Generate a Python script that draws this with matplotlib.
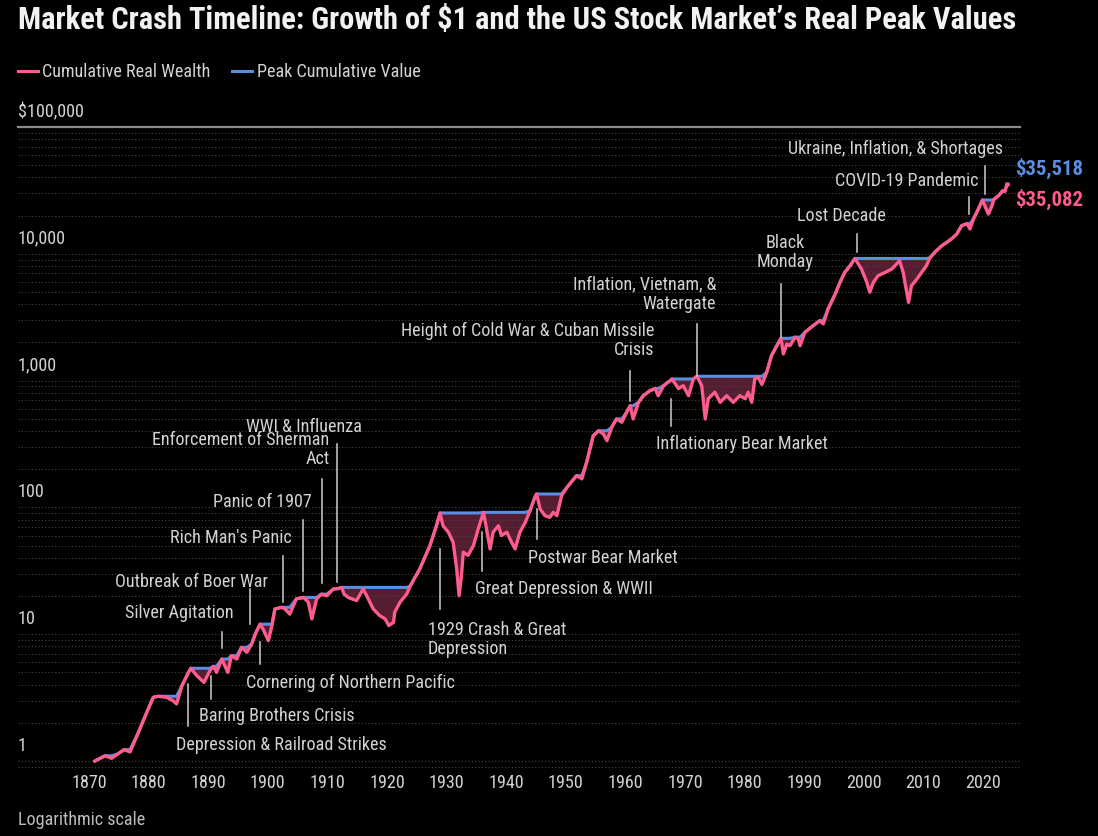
import numpy as np
import matplotlib.pyplot as plt
from matplotlib.lines import Line2D
from matplotlib import font_manager as fm

# real cumulative wealth of $1
years = [1871.0, 1872.7, 1873.8, 1874.9, 1875.9, 1876.9, 1878.3, 1879.7, 1880.8, 1881.6,
         1883.0, 1884.1, 1884.7, 1885.6, 1886.7, 1887.1, 1888.1, 1889.3, 1890.3, 1890.9,
         1891.4, 1892.3, 1893.3, 1893.9, 1894.8, 1895.6, 1896.5, 1897.3, 1897.9, 1898.7,
         1899.2, 1900.1, 1900.7, 1901.2, 1902.3, 1902.9, 1903.7, 1904.8, 1906.0, 1906.8,
         1907.4, 1908.2, 1909.0, 1909.9, 1911.0, 1911.8, 1912.4, 1912.8, 1913.5, 1914.9,
         1916.0, 1916.6, 1917.7, 1918.8, 1919.7, 1920.3, 1921.1, 1921.3, 1922.2, 1923.3,
         1923.9, 1925.5, 1927.2, 1928.3, 1928.9, 1929.4, 1930.3, 1931.1, 1931.7, 1932.1,
         1932.5, 1932.8, 1933.6, 1934.5, 1935.3, 1936.2, 1936.7, 1937.3, 1937.8, 1938.7,
         1939.2, 1940.1, 1940.9, 1941.5, 1942.3, 1943.2, 1944.0, 1944.8, 1945.1, 1945.7,
         1946.5, 1947.3, 1947.9, 1948.5, 1949.3, 1950.2, 1951.8, 1952.7, 1953.5, 1954.6,
         1955.5, 1956.3, 1956.9, 1957.7, 1958.5, 1959.4, 1960.2, 1960.8, 1961.3, 1962.2,
         1963.0, 1964.1, 1965.0, 1965.5, 1966.4, 1967.5, 1967.8, 1968.9, 1969.7, 1970.6,
         1971.4, 1972.0, 1972.8, 1973.4, 1973.9, 1975.0, 1975.9, 1977.0, 1978.1, 1979.2,
         1980.1, 1980.6, 1981.2, 1981.7, 1982.3, 1982.9, 1983.7, 1984.5, 1985.4, 1986.1,
         1986.5, 1987.1, 1987.6, 1988.5, 1989.0, 1989.3, 1990.1, 1991.5, 1992.6, 1993.2,
         1994.0, 1995.2, 1996.0, 1996.8, 1997.7, 1998.5, 1999.6, 2000.5, 2001.0, 2001.6,
         2002.4, 2003.6, 2004.7, 2005.5, 2006.0, 2006.6, 2007.2, 2007.5, 2008.0, 2008.9,
         2009.7, 2010.5, 2011.1, 2011.9, 2013.1, 2013.9, 2014.7, 2015.6, 2016.4, 2017.3,
         2017.8, 2018.4, 2019.2, 2019.9, 2020.4, 2020.9, 2021.5, 2021.8, 2022.6, 2023.3,
         2023.7, 2024.0, 2024.2]
wealth = [1.00, 1.10, 1.05, 1.14, 1.23, 1.18, 1.68, 2.42, 3.18, 3.24,
          3.18, 2.99, 2.82, 3.92, 5.00, 5.39, 4.71, 4.17, 5.16, 5.58,
          5.00, 6.37, 5.00, 6.77, 6.37, 7.88, 7.20, 8.37, 10.0, 12.0,
          11.0, 8.9, 11.7, 15.8, 16.3, 15.8, 14.4, 19.0, 19.5, 17.9,
          13.2, 19.0, 20.7, 20.1, 22.7, 22.9, 23.4, 20.7, 19.5, 18.4,
          22.7, 20.1, 15.8, 14.0, 13.2, 11.7, 12.4, 14.9, 17.9, 20.7,
          24.0, 32.7, 49.9, 71.7, 90.4, 71.7, 63.7, 53.1, 32.7, 20.1,
          28.9, 44.3, 41.9, 49.9, 67.5, 91.4, 67.5, 47.0, 63.7, 71.7,
          60.0, 63.7, 53.1, 47.0, 63.7, 76.2, 94.2, 120, 127.6, 97,
          86, 83.5, 91.4, 86, 124, 144, 178, 168, 227, 367,
          402, 380, 336, 428, 498, 470, 562, 634, 498, 674,
          760, 832, 866, 760, 912, 998, 1030, 866, 912, 760,
          1030, 1082, 912, 498, 720, 810, 674, 760, 674, 760,
          720, 810, 674, 1030, 1060, 933, 1160, 1570, 1884, 2155,
          1622, 1940, 1884, 2200, 2130, 1884, 2400, 2710, 2970, 2800,
          3670, 4820, 5960, 7140, 8060, 9190, 7590, 5960, 4970, 5960,
          6720, 7140, 7590, 8310, 8830, 7140, 4970, 4140, 5600, 6320,
          7140, 8060, 9300, 10280, 11600, 12300, 13090, 14330, 16660, 17300,
          15700, 18800, 22500, 26570, 23300, 20600, 23900, 26800, 28700, 31450,
          31000, 35518, 35082]

ytick_vals = [1, 10, 100, 1000, 10000, 100000]
ytick_labels = ["1", "10", "100", "1,000", "10,000", "$100,000"]
xtick_vals = list(range(1870, 2021, 10))

event_labels = ["Depression & Railroad Strikes", "Baring Brothers Crisis",
                "Cornering of Northern Pacific", "Silver Agitation", "Outbreak of Boer War",
                "Rich Man's Panic", "Panic of 1907", "Enforcement of Sherman\nAct",
                "WWI & Influenza", "1929 Crash & Great\nDepression", "Great Depression & WWII",
                "Postwar Bear Market", "Height of Cold War & Cuban Missile\nCrisis",
                "Inflation, Vietnam, &\nWatergate", "Inflationary Bear Market", "Black\nMonday",
                "Lost Decade", "COVID-19 Pandemic", "Ukraine, Inflation, & Shortages"]

# layout of the callouts: leader x, leader top/bottom, text x, text y, alignment
callouts = [
    (1886.6, 4.05, 1.89, 1884.6, 1.36, "left"),
    (1890.4, 4.68, 3.08, 1888.5, 2.31, "left"),
    (1898.7, 8.68, 5.82, 1896.3, 4.20, "left"),
    (1892.3, 10.4, 7.78, 1894.2, 15.0, "right"),
    (1897.0, 22.7, 12.0, 1900.0, 26.3, "right"),
    (1902.5, 41.4, 17.9, 1904.1, 58.4, "right"),
    (1905.9, 79.6, 21.9, 1907.4, 112, "right"),
    (1909.1, 167, 25.3, 1910.4, 291, "right"),
    (1911.6, 316, 25.8, 1915.8, 438, "right"),
    (1928.9, 47, 15.8, 1926.9, 9.25, "left"),
    (1935.9, 64, 31.5, 1934.8, 23.1, "left"),
    (1945.2, 97, 56.3, 1943.7, 40.6, "left"),
    (1960.8, 1190, 690, 1964.8, 2110, "right"),
    (1972.0, 2795, 1086, 1975.2, 4910, "right"),
    (1967.7, 716, 438, 1965.1, 322, "left"),
    (1986.1, 5780, 2210, 1986.8, 10420, "center"),
    (1998.9, 14330, 10330, 1996.3, 20230, "center"),
    (2017.7, 28050, 20470, 2019.2, 38200, "right"),
    (2020.3, 49400, 29630, 2023.4, 68300, "right"),
]

PINK = "#ff5c8e"
BLUE = "#5b8ee0"
FILL = "#561c31"
TXT = "#d2d2d2"

# look for a narrow sans face, the original uses a condensed grotesque
fonts = fm.fontManager.ttflist
face, stretch = None, "normal"
for name in ["Roboto Condensed", "Liberation Sans Narrow", "Open Sans Condensed",
             "Noto Sans Condensed", "DejaVu Sans Condensed", "Arial Narrow"]:
    if any(f.name == name for f in fonts):
        face = name
        break
if face is None:
    for f in fonts:
        if f.name in ("Roboto", "Noto Sans", "Open Sans", "DejaVu Sans", "Liberation Sans") \
                and str(f.stretch) in ("condensed", "semi-condensed", "extra-condensed"):
            face, stretch = f.name, str(f.stretch)
            break
if face is None:
    face = "DejaVu Sans"
plt.rcParams["font.family"] = [face, "DejaVu Sans"]
plt.rcParams["font.stretch"] = stretch

years = np.array(years)
wealth = np.array(wealth)
peak = np.maximum.accumulate(wealth)

fig = plt.figure(figsize=(10.98, 8.37), dpi=100, facecolor="black")
renderer = fig.canvas.get_renderer()


def fit(text, width_px, base, weight="normal"):
    # font size that gives the text the width it has in the original
    t = fig.text(0, 0, text, fontsize=base, fontweight=weight)
    w = t.get_window_extent(renderer).width
    t.remove()
    return base * min(width_px / w, 1.2)


FS = fit("Inflationary Bear Market", 173, 12.5)
FS_TITLE = fit("Market Crash Timeline: Growth of $1 and the US Stock Market\u2019s Real Peak Values",
               997, 20, "bold")
FS_END = fit("$35,518", 68, 15, "bold")

ax = fig.add_axes([18 / 1098, 1 - 770 / 837, 1002 / 1098, 642 / 837])
ax.set_facecolor("black")
ax.set_yscale("log")
ax.set_ylim(0.865, 1e5)
ax.set_xlim(1858.1, 2026.2)

ax.grid(axis="y", which="both", linestyle=(0, (1, 2)), color="#444444", linewidth=0.8)
ax.axhline(1e5, color="#8a8a8a", linewidth=1.6, clip_on=False)
for s in ax.spines.values():
    s.set_visible(False)
ax.tick_params(axis="y", which="both", length=0, labelleft=False)
ax.tick_params(axis="x", length=0, colors=TXT, labelsize=FS, pad=3)
ax.set_xticks(xtick_vals)
ax.set_xticklabels([str(y) for y in xtick_vals])

for v, lab in zip(ytick_vals, ytick_labels):
    ax.annotate(lab, xy=(0, v), xycoords=("axes fraction", "data"), xytext=(0, 11.5),
                textcoords="offset points", ha="left", va="center", color=TXT, fontsize=FS)

ax.fill_between(years, wealth, peak, where=peak > wealth, interpolate=True, color=FILL, linewidth=0)
ax.plot(years, peak, color=BLUE, linewidth=2.2)
ax.plot(years, wealth, color=PINK, linewidth=2.4)

for lab, (lx, ytop, ybot, tx, ty, ha) in zip(event_labels, callouts):
    ax.plot([lx, lx], [ybot, ytop], color="#cfcfcf", linewidth=1.1)
    ax.text(tx, ty, lab, ha=ha, va="center", multialignment=ha, color=TXT,
            fontsize=FS, linespacing=1.1)

# title, legend and end labels
fig.text(18 / 1098, 1 - 20 / 837, "Market Crash Timeline: Growth of $1 and the US Stock Market\u2019s Real Peak Values",
         color="#f2f2f2", fontsize=FS_TITLE, fontweight="bold", ha="left", va="center")
fig.add_artist(Line2D([18 / 1098, 38 / 1098], [1 - 72 / 837] * 2, color=PINK, linewidth=2.2))
fig.text(42 / 1098, 1 - 72 / 837, "Cumulative Real Wealth", color=TXT, fontsize=FS, va="center")
fig.add_artist(Line2D([232 / 1098, 252 / 1098], [1 - 72 / 837] * 2, color=BLUE, linewidth=2.2))
fig.text(257 / 1098, 1 - 72 / 837, "Peak Cumulative Value", color=TXT, fontsize=FS, va="center")
fig.text(1015 / 1098, 1 - 168 / 837, "${:,.0f}".format(peak[-1]), color=BLUE, fontsize=FS_END,
         fontweight="bold", va="center")
fig.text(1015 / 1098, 1 - 199 / 837, "${:,.0f}".format(wealth[-1]), color=PINK, fontsize=FS_END,
         fontweight="bold", va="center")
fig.text(18 / 1098, 1 - 820 / 837, "Logarithmic scale", color="#bdbdbd", fontsize=FS, va="center")

fig.savefig("out.png", dpi=100, facecolor="black")
